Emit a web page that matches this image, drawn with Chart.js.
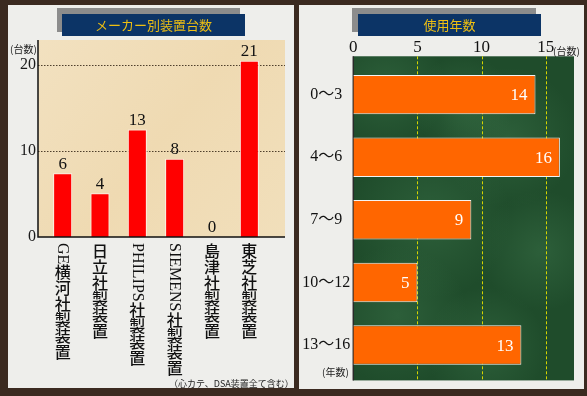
<!DOCTYPE html>
<html><head><meta charset="utf-8">
<script src="https://cdn.jsdelivr.net/npm/chart.js@4/dist/chart.umd.min.js"></script>
<style>
html,body{margin:0;padding:0;}
body{width:587px;height:396px;background:#3b2a20;position:relative;overflow:hidden;font-family:"Noto Sans CJK JP",sans-serif;}
.panel{position:absolute;background:#eeeeeb;}
#pl{left:8px;top:5px;width:286px;height:383px;}
#pr{left:299px;top:5px;width:285px;height:384px;}
.shadow{position:absolute;background:#8c8c8c;}
.title{position:absolute;background:#0c3466;color:#efbf12;font-size:13px;text-align:center;line-height:22px;}
canvas{position:absolute;left:0;top:0;}
.note{position:absolute;font-size:10px;color:#222;white-space:nowrap;line-height:12px;}
</style></head>
<body>
<div class="panel" id="pl">
  <canvas id="cl" width="286" height="383"></canvas>
  <div class="shadow" style="left:49px;top:3px;width:183px;height:24px;"></div>
  <div class="title" style="left:54px;top:9px;width:183px;height:22px;">メーカー別装置台数</div>
  <div class="note" style="left:2px;top:38px;">(台数)</div>
  <div class="note" style="left:161px;top:373px;font-size:9px;">（心カテ、DSA装置全て含む）</div>
</div>
<div class="panel" id="pr">
  <canvas id="cr" width="285" height="384"></canvas>
  <div class="shadow" style="left:53px;top:3px;width:184px;height:24px;"></div>
  <div class="title" style="left:59px;top:9px;width:183px;height:22px;">使用年数</div>
  <div class="note" style="left:254px;top:40px;">(台数)</div>
  <div class="note" style="left:23px;top:361px;">(年数)</div>
</div>
<script>
// ---- data ----
const makers = ['GE横河社製装置', '日立社製装置', 'PHILIPS社製装置', 'SIEMENS社製装置', '島津社製装置', '東芝社製装置'];
const makerBarHeights = [7.4, 5.1, 12.5, 9.1, 0, 20.5];
const makerCountLabels = ['6', '4', '13', '8', '0', '21'];
const countTicks = [0, 10, 20];

const ageGroups = ['0〜3', '4〜6', '7〜9', '10〜12', '13〜16'];
const ageBarLengths = [14.2, 16.1, 9.2, 5.0, 13.1];
const ageCountLabels = ['14', '16', '9', '5', '13'];
const ageTicks = [0, 5, 10, 15];

const SERIF = '"Liberation Serif", "Noto Sans CJK JP", serif';
const CJK = '"Noto Sans CJK JP", sans-serif';

function drawVertical(ctx, text, x, y0) {
  const runs = text.match(/[\x00-\x7F]+|[^\x00-\x7F]/g);
  let y = y0;
  ctx.fillStyle = '#111';
  for (const r of runs) {
    if (/^[\x00-\x7F]+$/.test(r)) {
      ctx.save();
      ctx.font = '16px ' + SERIF;
      const w = ctx.measureText(r).width;
      ctx.translate(x, y);
      ctx.rotate(Math.PI / 2);
      ctx.textAlign = 'left';
      ctx.textBaseline = 'middle';
      ctx.fillText(r, 0, 0);
      ctx.restore();
      y += w;
    } else {
      ctx.font = '500 16px ' + CJK;
      ctx.textAlign = 'center';
      ctx.textBaseline = 'top';
      ctx.fillText(r, x, y);
      y += 16;
    }
  }
}

const leftDeco = {
  id: 'leftDeco',
  beforeDraw(chart) {
    const {ctx, chartArea: a, scales: {y}} = chart;
    const L = a.left - 6, R = a.right + 17, T = a.top, B = a.bottom;
    ctx.save();
    const g = ctx.createLinearGradient(L, T, R, B);
    g.addColorStop(0, '#f2e1c0');
    g.addColorStop(0.5, '#efdab2');
    g.addColorStop(1, '#f1dfbb');
    ctx.fillStyle = g;
    ctx.fillRect(L, T, R - L, B - T);
    ctx.strokeStyle = 'rgba(50,35,20,0.85)';
    ctx.lineWidth = 1;
    ctx.setLineDash([1.5, 1.5]);
    countTicks.filter(v => v > 0).forEach(v => {
      const py = Math.round(y.getPixelForValue(v)) + 0.5;
      ctx.beginPath(); ctx.moveTo(L, py); ctx.lineTo(R, py); ctx.stroke();
    });
    ctx.restore();
  },
  afterDraw(chart) {
    const {ctx, chartArea: a, scales: {x}} = chart;
    const L = a.left - 6, R = a.right + 17;
    ctx.save();
    ctx.strokeStyle = '#111';
    ctx.lineWidth = 1.5;
    ctx.beginPath();
    ctx.moveTo(L, a.top); ctx.lineTo(L, a.bottom); ctx.lineTo(R, a.bottom);
    ctx.stroke();
    // value labels
    const meta = chart.getDatasetMeta(0);
    ctx.font = '17px ' + SERIF;
    ctx.fillStyle = '#111';
    ctx.textAlign = 'center';
    ctx.textBaseline = 'bottom';
    meta.data.forEach((bar, i) => {
      ctx.fillText(makerCountLabels[i], bar.x, bar.y - 0.5);
    });
    // vertical category labels
    makers.forEach((m, i) => {
      drawVertical(ctx, m, x.getPixelForValue(i), a.bottom + 6);
    });
    ctx.restore();
  }
};

new Chart(document.getElementById('cl'), {
  type: 'bar',
  data: {
    labels: makers,
    datasets: [{
      data: makerBarHeights,
      backgroundColor: '#ff0000',
      borderColor: '#fff0ea',
      borderWidth: 1,
      borderSkipped: 'bottom',
      categoryPercentage: 1,
      barPercentage: 0.51
    }]
  },
  options: {
    responsive: false,
    animation: false,
    devicePixelRatio: 1,
    layout: {padding: {left: 0, top: 35, right: 26, bottom: 151}},
    plugins: {legend: {display: false}, tooltip: {enabled: false}},
    scales: {
      x: {
        type: 'category',
        ticks: {display: false},
        grid: {display: false, drawTicks: false},
        border: {display: false},
        afterFit: s => { s.height = 0; }
      },
      y: {
        min: 0, max: 22.9,
        afterBuildTicks: s => { s.ticks = countTicks.map(v => ({value: v})); },
        afterFit: s => { s.width = 36; },
        grid: {display: false, drawTicks: false},
        border: {display: false},
        ticks: {padding: 8, color: '#1a1a1a', font: {family: SERIF, size: 16}}
      }
    }
  },
  plugins: [leftDeco]
});

const rightDeco = {
  id: 'rightDeco',
  beforeDraw(chart) {
    const {ctx, chartArea: a, scales: {x}} = chart;
    const L = a.left, R = a.right, T = a.top - 7, B = a.bottom + 4;
    ctx.save();
    ctx.fillStyle = '#1f4c2b';
    ctx.fillRect(L, T, R - L, B - T);
    const spots = [[0.15,0.1,60],[0.7,0.25,70],[0.35,0.5,80],[0.85,0.6,60],[0.2,0.8,70],[0.6,0.9,60],[0.5,0.15,50]];
    spots.forEach(([fx, fy, r]) => {
      const cx = L + fx * (R - L), cy = T + fy * (B - T);
      const g = ctx.createRadialGradient(cx, cy, 0, cx, cy, r);
      g.addColorStop(0, 'rgba(70,130,85,0.35)');
      g.addColorStop(1, 'rgba(70,130,85,0)');
      ctx.fillStyle = g;
      ctx.fillRect(L, T, R - L, B - T);
    });
    ctx.strokeStyle = '#d6d600';
    ctx.lineWidth = 1;
    ctx.setLineDash([3, 2]);
    ageTicks.filter(v => v > 0).forEach(v => {
      const px = Math.round(x.getPixelForValue(v)) + 0.5;
      ctx.beginPath(); ctx.moveTo(px, T); ctx.lineTo(px, B); ctx.stroke();
    });
    ctx.setLineDash([]);
    ctx.strokeStyle = '#2a2a2a';
    ctx.lineWidth = 1.5;
    ctx.beginPath(); ctx.moveTo(L, T); ctx.lineTo(L, B); ctx.stroke();
    ctx.restore();
  },
  afterDraw(chart) {
    const {ctx} = chart;
    const meta = chart.getDatasetMeta(0);
    ctx.save();
    ctx.font = '17px ' + SERIF;
    ctx.fillStyle = '#ffffff';
    ctx.textAlign = 'right';
    ctx.textBaseline = 'middle';
    meta.data.forEach((bar, i) => {
      ctx.fillText(ageCountLabels[i], bar.x - 8, bar.y + 1);
    });
    ctx.restore();
  }
};

new Chart(document.getElementById('cr'), {
  type: 'bar',
  data: {
    labels: ageGroups,
    datasets: [{
      data: ageBarLengths,
      backgroundColor: '#ff6600',
      borderColor: '#f4f4f4',
      borderWidth: 1,
      borderSkipped: 'start',
      categoryPercentage: 1,
      barPercentage: 0.63
    }]
  },
  options: {
    indexAxis: 'y',
    responsive: false,
    animation: false,
    devicePixelRatio: 1,
    layout: {padding: {left: 0, top: 0, right: 10, bottom: 11.8}},
    plugins: {legend: {display: false}, tooltip: {enabled: false}},
    scales: {
      x: {
        position: 'top',
        min: 0, max: 17.2,
        afterBuildTicks: s => { s.ticks = ageTicks.map(v => ({value: v})); },
        afterFit: s => { s.height = 58.3; },
        grid: {display: false, drawTicks: false},
        border: {display: false},
        ticks: {padding: 6, color: '#111', font: {family: SERIF, size: 17}}
      },
      y: {
        type: 'category',
        afterFit: s => { s.width = 54.3; },
        grid: {display: false, drawTicks: false},
        border: {display: false},
        ticks: {crossAlign: 'center', padding: 3, color: '#111', font: {family: SERIF, size: 16}}
      }
    }
  },
  plugins: [rightDeco]
});
</script>
</body></html>
